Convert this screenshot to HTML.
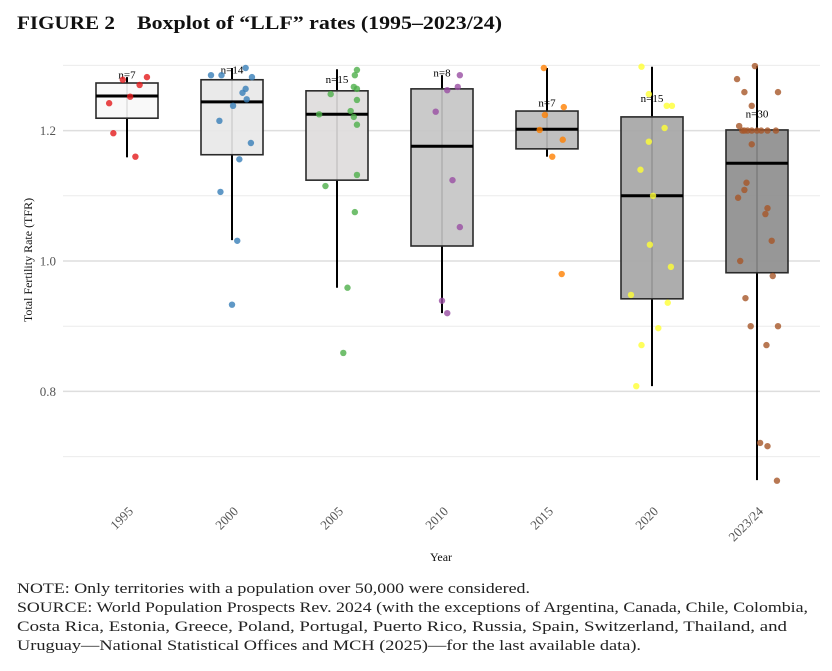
<!DOCTYPE html>
<html><head><meta charset="utf-8"><style>
body{margin:0;background:#fff;width:832px;height:666px;overflow:hidden;font-family:"Liberation Serif",serif}
</style></head><body>
<svg id="chart" width="832" height="666" xmlns="http://www.w3.org/2000/svg" font-family="Liberation Serif, serif">
<g font-size="19" font-weight="bold" fill="#111">
<text x="17" y="29" textLength="98" lengthAdjust="spacingAndGlyphs">FIGURE 2</text>
<text x="137" y="29" textLength="365" lengthAdjust="spacingAndGlyphs">Boxplot of “LLF” rates (1995–2023/24)</text>
</g>
<g id="grid"></g><g id="marks"></g><g id="axes"></g>
<text x="441" y="561" font-size="12" text-anchor="middle" fill="#111">Year</text>
<text transform="translate(32,260) rotate(-90)" font-size="12" text-anchor="middle" fill="#111">Total Fertility Rate (TFR)</text>
<g font-size="15" fill="#222">
<text x="17" y="593" textLength="513" lengthAdjust="spacingAndGlyphs">NOTE: Only territories with a population over 50,000 were considered.</text>
<text x="17" y="612" textLength="791" lengthAdjust="spacingAndGlyphs">SOURCE: World Population Prospects Rev. 2024 (with the exceptions of Argentina, Canada, Chile, Colombia,</text>
<text x="17" y="631" textLength="770" lengthAdjust="spacingAndGlyphs">Costa Rica, Estonia, Greece, Poland, Portugal, Puerto Rico, Russia, Spain, Switzerland, Thailand, and</text>
<text x="17" y="650" textLength="624" lengthAdjust="spacingAndGlyphs">Uruguay—National Statistical Offices and MCH (2025)—for the last available data).</text>
</g>
</svg>
<script>
const categories=["1995","2000","2005","2010","2015","2020","2023/24"];
const q1=[1.219,1.163,1.124,1.023,1.172,0.942,0.982];
const med=[1.253,1.244,1.225,1.176,1.202,1.100,1.150];
const q3=[1.273,1.278,1.261,1.264,1.230,1.221,1.201];
const whiskLo=[1.159,1.032,0.959,0.920,1.160,0.808,0.664];
const whiskHi=[1.282,1.296,1.294,1.285,1.296,1.298,1.299];
const counts=[7,14,15,8,7,15,30];
const labelVals=[1.286,1.294,1.279,1.289,1.243,1.250,1.226];
const boxFills=["#f8f8f8","#e8e8e8","#dedcdc","#c6c6c6","#bbbbbb","#a6a6a6","#8e8e8e"];
const pointColors=["#e41a1c","#377eb8","#4daf4a","#984ea3","#ff7f00","#ffff33","#a65628"];
const yTicks=[0.8,1.0,1.2];
const yMinor=[0.7,0.9,1.1,1.3];
const pts1995=[1.278,1.270,1.242,1.252,1.282,1.196,1.160];
const jit1995=[-0.04,0.12,-0.17,0.03,0.19,-0.13,0.08];
const pts2000=[1.285,1.285,1.296,1.282,1.258,1.264,1.248,1.238,1.215,1.181,1.156,1.106,1.031,0.933];
const jit2000=[-0.2,-0.1,0.13,0.19,0.1,0.13,0.14,0.01,-0.12,0.18,0.07,-0.11,0.05,0.0];
const pts2005=[1.293,1.285,1.267,1.264,1.256,1.247,1.225,1.230,1.221,1.209,1.132,1.115,1.075,0.959,0.859];
const jit2005=[0.19,0.17,0.16,0.19,-0.06,0.19,-0.17,0.13,0.16,0.19,0.19,-0.11,0.17,0.1,0.06];
const pts2010=[1.285,1.262,1.267,1.229,1.124,1.052,0.939,0.920];
const jit2010=[0.17,0.05,0.15,-0.06,0.1,0.17,0.0,0.05];
const pts2015=[1.296,1.236,1.224,1.201,1.186,1.160,0.980];
const jit2015=[-0.03,0.16,-0.02,-0.07,0.15,0.05,0.14];
const pts2020=[1.298,1.256,1.238,1.238,1.204,1.183,1.140,1.100,1.025,0.991,0.948,0.936,0.897,0.871,0.808];
const jit2020=[-0.1,-0.03,0.14,0.19,0.12,-0.03,-0.11,0.01,-0.02,0.18,-0.2,0.15,0.06,-0.1,-0.15];
const pts2023=[1.299,1.279,1.259,1.259,1.238,1.207,1.200,1.200,1.200,1.200,1.200,1.200,1.200,1.200,1.179,1.120,1.109,1.097,1.081,1.072,1.031,1.000,0.977,0.943,0.900,0.900,0.871,0.721,0.716,0.663];
const jit2023=[-0.02,-0.19,-0.12,0.2,-0.05,-0.17,-0.05,-0.14,-0.09,0.04,0.1,0.18,-0.12,0.0,-0.05,-0.1,-0.12,-0.18,0.1,0.08,0.14,-0.16,0.15,-0.11,-0.06,0.2,0.09,0.03,0.1,0.19];
const allPts=[pts1995,pts2000,pts2005,pts2010,pts2015,pts2020,pts2023];
const allJit=[jit1995,jit2000,jit2005,jit2010,jit2015,jit2020,jit2023];

const NS="http://www.w3.org/2000/svg";
const X0=63,X1=820,STEP=105,FIRST=127,BOXW=62;
const xPos=i=>FIRST+i*STEP;
const yPos=v=>261-(v-1)*652;
function mk(tag,attrs,parent){const e=document.createElementNS(NS,tag);for(const k in attrs)e.setAttribute(k,attrs[k]);parent.appendChild(e);return e;}
const grid=document.getElementById('grid'),marks=document.getElementById('marks'),axes=document.getElementById('axes');
yMinor.forEach(v=>{const l=mk('line',{x1:X0,x2:X1,y1:yPos(v),y2:yPos(v),stroke:'#ececec','stroke-width':1},grid);

});
yTicks.forEach(v=>{const l=mk('line',{x1:X0,x2:X1,y1:yPos(v),y2:yPos(v),stroke:'#dedede','stroke-width':1.5},grid);


const t=mk('text',{x:56,y:yPos(v)+4.5,'text-anchor':'end','font-size':13,fill:'#555'},axes);
t.textContent=v.toFixed(1);

});
categories.forEach((c,i)=>{
const x=xPos(i);
const g=mk('g',{},marks);


const w=mk('line',{x1:x,x2:x,y1:yPos(whiskHi[i]),y2:yPos(whiskLo[i]),stroke:'#000','stroke-width':2},g);


const r=mk('rect',{x:x-BOXW/2,y:yPos(q3[i]),width:BOXW,height:yPos(q1[i])-yPos(q3[i]),fill:boxFills[i],'fill-opacity':0.92,stroke:'#2a2a2a','stroke-width':1.6},g);


const m=mk('line',{x1:x-BOXW/2,x2:x+BOXW/2,y1:yPos(med[i]),y2:yPos(med[i]),stroke:'#000','stroke-width':3},g);


const t=mk('text',{x:x,y:yPos(labelVals[i])+4,'text-anchor':'middle','font-size':11,fill:'#000'},g);
t.textContent='n='+counts[i];


allPts[i].forEach((v,j)=>{const p=mk('circle',{cx:x+allJit[i][j]*STEP,cy:yPos(v),r:3.2,fill:pointColors[i],'fill-opacity':0.8},g);

});
const xl=mk('text',{transform:`translate(${x+7},${512}) rotate(-45)`,'text-anchor':'end','font-size':13,fill:'#555'},axes);
xl.textContent=c;


});
</script>
</body></html>
